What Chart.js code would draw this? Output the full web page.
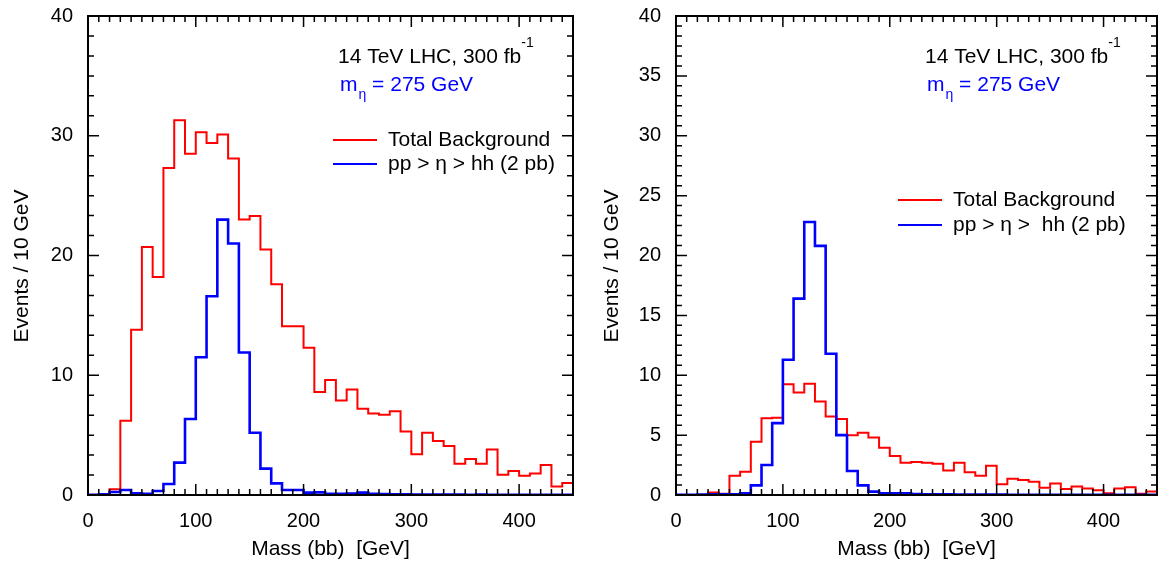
<!DOCTYPE html>
<html>
<head>
<meta charset="utf-8">
<script src="https://cdn.jsdelivr.net/npm/chart.js@4"></script>
<style>
  html, body { margin: 0; padding: 0; background: #fff; }
  #wrap { position: relative; width: 1159px; height: 565px; }
  #left { position: absolute; left: 0; top: 0; }
  #right { position: absolute; left: 590px; top: 0; }
</style>
</head>
<body>
<div id="wrap">
  <canvas id="left" width="580" height="565"></canvas>
  <canvas id="right" width="569" height="565"></canvas>
</div>
<script>
// bin edges in GeV (10 GeV bins)
const binEdges = [0, 10, 20, 30, 40, 50, 60, 70, 80, 90, 100, 110, 120, 130, 140, 150, 160, 170, 180, 190,
  200, 210, 220, 230, 240, 250, 260, 270, 280, 290, 300, 310, 320, 330, 340, 350, 360, 370, 380, 390,
  400, 410, 420, 430, 440, 450];

// left panel
const bkgLeft = [0, 0, 0.47, 6.2, 13.8, 20.7, 18.2, 27.3, 31.3, 28.5,
  30.3, 29.4, 30.1, 28.1, 23.0, 23.3, 20.5, 17.6, 14.1, 14.1,
  12.3, 8.6, 9.6, 7.9, 8.8, 7.2, 6.8, 6.7, 7.0, 5.3,
  3.4, 5.2, 4.5, 4.1, 2.6, 3.0, 2.6, 3.8, 1.7, 2.0,
  1.6, 1.8, 2.5, 0.7, 1.0];
const sigLeft = [0.02, 0.05, 0.25, 0.42, 0.15, 0.1, 0.33, 0.92, 2.7, 6.35,
  11.5, 16.6, 23.0, 21.0, 11.9, 5.2, 2.2, 0.97, 0.42, 0.42,
  0.2, 0.22, 0.1, 0.1, 0.12, 0.2, 0.1, 0.08, 0.06, 0.05,
  0.04, 0.03, 0.04, 0.03, 0.03, 0.02, 0.03, 0.02, 0.02, 0.02,
  0.02, 0.01, 0.02, 0.01, 0.01];

// right panel
const bkgRight = [0, 0, 0, 0.2, 0.1, 1.6, 1.95, 4.45, 6.4, 6.45,
  9.25, 8.55, 9.3, 7.8, 6.55, 6.35, 5.0, 5.2, 4.8, 3.95,
  3.25, 2.7, 2.75, 2.7, 2.6, 2.05, 2.7, 1.9, 1.6, 2.45,
  0.9, 1.35, 1.25, 1.1, 0.6, 0.95, 0.5, 0.7, 0.55, 0.4,
  0.15, 0.55, 0.65, 0.1, 0.3];
const sigRight = [0.02, 0.02, 0.03, 0.05, 0.05, 0.05, 0.15, 0.8, 2.5, 6.0,
  11.3, 16.4, 22.8, 20.8, 11.8, 5.0, 2.0, 0.8, 0.28, 0.14,
  0.15, 0.15, 0.08, 0.06, 0.05, 0.05, 0.04, 0.04, 0.03, 0.03,
  0.03, 0.02, 0.02, 0.02, 0.02, 0.02, 0.01, 0.01, 0.01, 0.01,
  0.01, 0.01, 0.01, 0.01, 0.01];

const xTicks = [0, 100, 200, 300, 400];
const yTicksLeft = [0, 10, 20, 30, 40];
const yTicksRight = [0, 5, 10, 15, 20, 25, 30, 35, 40];

const FONT = "'Liberation Sans', Arial, Helvetica, sans-serif";

function histPoints(vals) {
  const pts = vals.map((v, i) => ({ x: binEdges[i], y: v }));
  pts.push({ x: binEdges[vals.length], y: vals[vals.length - 1] });
  return pts;
}

function txt(ctx, s, x, y, size, color) {
  ctx.font = size + "px " + FONT;
  ctx.fillStyle = color;
  ctx.fillText(s, x, y);
  return x + ctx.measureText(s).width;
}

// frame, inward ticks on all sides, y title, labels and legend
const decor = {
  id: "decor",
  afterDraw(chart, args, o) {
    const { ctx, chartArea: a, scales: { x, y } } = chart;
    ctx.save();
    ctx.strokeStyle = "#000";
    ctx.lineWidth = 1.5;
    ctx.beginPath();
    for (let v = 0; v <= 450; v += 10) {
      const px = x.getPixelForValue(v);
      const len = v % 100 === 0 ? 11 : 6;
      ctx.moveTo(px, a.bottom); ctx.lineTo(px, a.bottom - len);
      ctx.moveTo(px, a.top); ctx.lineTo(px, a.top + len);
    }
    const nMinor = 6 * 40 / o.yStep;
    for (let k = 0; k <= nMinor; k++) {
      const py = y.getPixelForValue(k * o.yStep / 6);
      const len = k % 6 === 0 ? 11 : 6;
      ctx.moveTo(a.left, py); ctx.lineTo(a.left + len, py);
      ctx.moveTo(a.right, py); ctx.lineTo(a.right - len, py);
    }
    ctx.stroke();
    ctx.lineWidth = 2;
    ctx.strokeRect(a.left, a.top, a.right - a.left, a.bottom - a.top);

    // y axis title
    ctx.save();
    ctx.translate(28, 266);
    ctx.rotate(-Math.PI / 2);
    ctx.textAlign = "center";
    ctx.textBaseline = "alphabetic";
    txt(ctx, "Events / 10 GeV", 0, 0, 21, "#000");
    ctx.restore();

    ctx.textBaseline = "alphabetic";
    ctx.textAlign = "left";
    // energy / luminosity
    let cx = txt(ctx, "14 TeV LHC, 300 fb", o.tx, 63, 21, "#000");
    txt(ctx, "-1", cx, 47, 14, "#000");
    // mass label
    cx = txt(ctx, "m", o.tx + 2, 90.5, 21, "#0000ff");
    cx = txt(ctx, "\u03b7", cx + 1, 99, 14, "#0000ff");
    txt(ctx, " = 275 GeV", cx, 90.5, 21, "#0000ff");

    // legend
    chart.data.datasets.forEach((ds, i) => {
      const ly = o.legY[i];
      ctx.strokeStyle = ds.borderColor;
      ctx.lineWidth = 2;
      ctx.beginPath();
      ctx.moveTo(o.legX, ly);
      ctx.lineTo(o.legX + 44, ly);
      ctx.stroke();
      txt(ctx, ds.label, o.legX + 55, ly + 5.5, 21, "#000");
    });
    ctx.restore();
  }
};

function makeChart(id, bkg, sig, yTicks, sigLabel, opts) {
  return new Chart(document.getElementById(id), {
    type: "line",
    data: {
      datasets: [
        {
          label: "Total Background",
          data: histPoints(bkg),
          borderColor: "#ff0000",
          borderWidth: 2,
          stepped: "before",
          pointRadius: 0,
          fill: false,
          order: 1,
        },
        {
          label: sigLabel,
          data: histPoints(sig),
          borderColor: "#0000ff",
          borderWidth: 2.6,
          stepped: "before",
          pointRadius: 0,
          fill: false,
          order: 0,
        },
      ],
    },
    options: {
      responsive: false,
      animation: false,
      layout: { padding: { left: 0, right: opts.padRight, top: 16, bottom: 0 } },
      scales: {
        x: {
          type: "linear",
          min: 0,
          max: 450,
          grid: { display: false, drawTicks: false },
          border: { display: false },
          afterBuildTicks: (s) => { s.ticks = xTicks.map((v) => ({ value: v })); },
          afterFit: (s) => { s.height = 70; s.paddingLeft = 0; s.paddingRight = 0; },
          ticks: { color: "#000", padding: 14, font: { family: FONT, size: 20 } },
          title: {
            display: true,
            text: "Mass (bb)  [GeV]",
            color: "#000",
            padding: { top: 0, bottom: 3.5 },
            font: { family: FONT, size: 21 },
          },
        },
        y: {
          min: 0,
          max: 40,
          grid: { display: false, drawTicks: false },
          border: { display: false },
          afterBuildTicks: (s) => { s.ticks = yTicks.map((v) => ({ value: v })); },
          afterFit: (s) => { s.width = opts.yWidth; s.paddingTop = 0; s.paddingBottom = 0; },
          ticks: { color: "#000", padding: 15, font: { family: FONT, size: 20 } },
        },
      },
      plugins: {
        legend: { display: false },
        tooltip: { enabled: false },
        decor: opts.decor,
      },
    },
    plugins: [decor],
  });
}

document.addEventListener("DOMContentLoaded", () => {
  makeChart("left", bkgLeft, sigLeft, yTicksLeft, "pp > \u03b7 > hh (2 pb)", {
    padRight: 7,
    yWidth: 88,
    decor: { yStep: 10, tx: 338, legX: 333, legY: [140, 164] },
  });
  makeChart("right", bkgRight, sigRight, yTicksRight, "pp > \u03b7 >  hh (2 pb)", {
    padRight: 2,
    yWidth: 86,
    decor: { yStep: 5, tx: 335, legX: 308, legY: [200, 225] },
  });
});
</script>
</body>
</html>
